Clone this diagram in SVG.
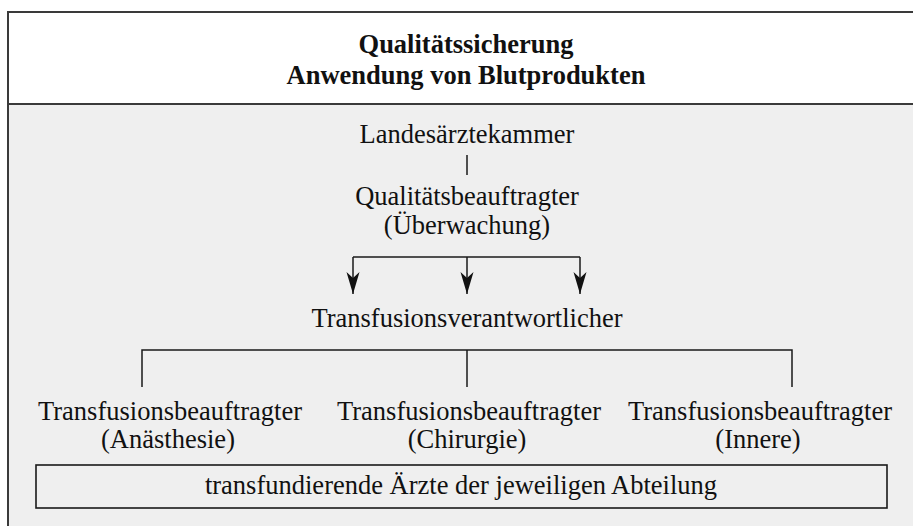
<svg xmlns="http://www.w3.org/2000/svg" width="913" height="526" viewBox="0 0 913 526">
  <style>
    text { font-family: "Liberation Serif", "Times New Roman", serif; font-size: 26.5px; fill: #111; text-anchor: middle; }
    .title { font-weight: bold; }
    .conn { fill: none; stroke: #1a1a1a; stroke-width: 1.5; }
    .frame { fill: none; stroke: #3a3a3a; stroke-width: 2; }
    .box { fill: none; stroke: #1a1a1a; stroke-width: 1.6; }
  </style>
  <defs>
    <marker id="arr" markerUnits="userSpaceOnUse" markerWidth="24" markerHeight="16" viewBox="0 -8 24 16" refX="22" refY="0" orient="auto">
      <path d="M0,-6.5 L22,0 L0,6.5 L6,0 Z" fill="#111"/>
    </marker>
  </defs>

  <rect x="0" y="0" width="913" height="526" fill="#ffffff"/>
  <rect x="8" y="104" width="910" height="430" fill="#efefef"/>

  <g id="frame">
    <path class="frame" d="M8,540 V12 H920"/>
    <line class="frame" x1="8" y1="104" x2="920" y2="104"/>
  </g>

  <g id="header">
    <text class="title" x="466" y="53">Qualitätssicherung</text>
    <text class="title" x="466" y="84">Anwendung von Blutprodukten</text>
  </g>

  <g id="connectors">
    <line class="conn" x1="467" y1="155" x2="467" y2="175"/>
    <path class="conn" d="M353,257 H580"/>
    <line class="conn" x1="353" y1="257" x2="353" y2="294" marker-end="url(#arr)"/>
    <line class="conn" x1="467" y1="257" x2="467" y2="294" marker-end="url(#arr)"/>
    <line class="conn" x1="580" y1="257" x2="580" y2="294" marker-end="url(#arr)"/>
    <path class="conn" d="M142,387 V350 H792 V387"/>
    <line class="conn" x1="467" y1="350" x2="467" y2="387"/>
  </g>

  <g id="node-landesaerztekammer">
    <text x="467" y="143">Landesärztekammer</text>
  </g>

  <g id="node-qualitaetsbeauftragter">
    <text x="467" y="205">Qualitätsbeauftragter</text>
    <text x="467" y="234">(Überwachung)</text>
  </g>

  <g id="node-transfusionsverantwortlicher">
    <text x="467" y="327">Transfusionsverantwortlicher</text>
  </g>

  <g id="node-anaesthesie">
    <text x="170" y="420">Transfusionsbeauftragter</text>
    <text x="168" y="448">(Anästhesie)</text>
  </g>

  <g id="node-chirurgie">
    <text x="469" y="420">Transfusionsbeauftragter</text>
    <text x="467" y="448">(Chirurgie)</text>
  </g>

  <g id="node-innere">
    <text x="760" y="420">Transfusionsbeauftragter</text>
    <text x="758" y="448">(Innere)</text>
  </g>

  <g id="node-aerzte">
    <rect class="box" x="36" y="465" width="851" height="43"/>
    <text x="461" y="494">transfundierende Ärzte der jeweiligen Abteilung</text>
  </g>
</svg>
